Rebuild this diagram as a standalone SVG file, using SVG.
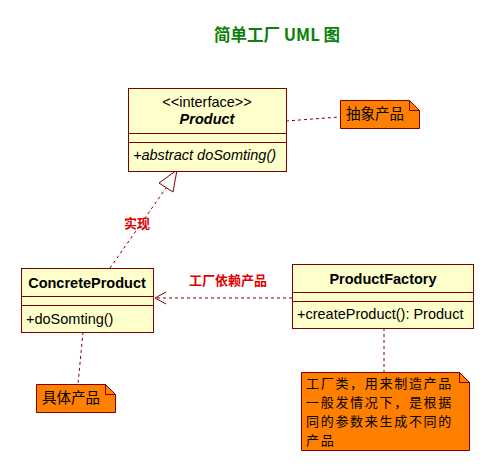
<svg xmlns="http://www.w3.org/2000/svg" width="493" height="471" viewBox="0 0 493 471">
<style>
.cls{fill:#FFFFCC;stroke:#800000;stroke-width:1}
.sep{stroke:#800000;stroke-width:1}
.note{fill:#FF8000;stroke:#800000;stroke-width:1}
.t{font-family:"Liberation Sans","DejaVu Sans",sans-serif;font-size:14.5px;fill:#000}
.b{font-weight:bold}
.cjk{font-family:"Noto Sans CJK SC","DejaVu Sans",sans-serif;font-size:14.5px;fill:#000}
.cjk2{font-family:"Noto Sans CJK SC","DejaVu Sans",sans-serif;font-size:13px;letter-spacing:1.7px;fill:#000}
.red{font-family:"Noto Sans CJK SC",sans-serif;font-size:13px;font-weight:bold;fill:#E00000}
.dash{fill:none;stroke:#800000;stroke-width:1;stroke-dasharray:3,3}
</style>
<rect width="493" height="471" fill="#fff"/>
<text x="277" y="41" text-anchor="middle" style="font-family:'Noto Sans CJK SC','Liberation Sans',sans-serif;font-size:16.5px;font-weight:bold;fill:#0A7F0A">简单工厂 UML 图</text>
<g id="connectors">
<path class="dash" d="M286,121 L340,117"/>
<path class="dash" d="M110,268 L166,188"/>
<path fill="#fff" stroke="#800000" d="M177,170 L159,183 L173,192 Z"/>
<path class="dash" d="M292,298 L155,298"/>
<path fill="none" stroke="#800000" d="M166,292 L155,298 L166,304"/>
<path class="dash" d="M83,332 L78,384"/>
<path class="dash" d="M384,328 L384,372"/>
<text class="red" x="137" y="228" text-anchor="middle">实现</text>
<text class="red" x="228" y="285" text-anchor="middle">工厂依赖产品</text>
</g>
<g id="Product">
<rect class="cls" x="128.5" y="88.5" width="158" height="83"/>
<line class="sep" x1="128.5" y1="133.5" x2="286.5" y2="133.5"/>
<line class="sep" x1="128.5" y1="142.5" x2="286.5" y2="142.5"/>
<text class="t" x="207" y="107" text-anchor="middle">&lt;&lt;interface&gt;&gt;</text>
<text class="t b" x="207" y="124" text-anchor="middle" font-style="italic">Product</text>
<text class="t" x="133" y="160" font-style="italic">+abstract doSomting()</text>
</g>
<g id="NoteAbstract">
<path class="note" d="M340.5,100.5 L409.5,100.5 L419.5,110.5 L419.5,128.5 L340.5,128.5 Z"/>
<path fill="none" stroke="#800000" d="M409.5,100.5 L409.5,110.5 L419.5,110.5"/>
<text class="cjk" x="346" y="119">抽象产品</text>
</g>
<g id="ConcreteProduct">
<rect class="cls" x="21.5" y="268.5" width="132" height="64"/>
<line class="sep" x1="21.5" y1="296.5" x2="153.5" y2="296.5"/>
<line class="sep" x1="21.5" y1="305.5" x2="153.5" y2="305.5"/>
<text class="t b" x="87" y="288" text-anchor="middle">ConcreteProduct</text>
<text class="t" x="26" y="324">+doSomting()</text>
</g>
<g id="ProductFactory">
<rect class="cls" x="292.5" y="264.5" width="181" height="64"/>
<line class="sep" x1="292.5" y1="292.5" x2="473.5" y2="292.5"/>
<line class="sep" x1="292.5" y1="301.5" x2="473.5" y2="301.5"/>
<text class="t b" x="383" y="284" text-anchor="middle">ProductFactory</text>
<text class="t" x="297" y="319">+createProduct(): Product</text>
</g>
<g id="NoteConcrete">
<path class="note" d="M36.5,384.5 L105.5,384.5 L115.5,394.5 L115.5,412.5 L36.5,412.5 Z"/>
<path fill="none" stroke="#800000" d="M105.5,384.5 L105.5,394.5 L115.5,394.5"/>
<text class="cjk" x="42" y="403">具体产品</text>
</g>
<g id="NoteFactory">
<path class="note" d="M301.5,372.5 L459.5,372.5 L469.5,382.5 L469.5,450.5 L301.5,450.5 Z"/>
<path fill="none" stroke="#800000" d="M459.5,372.5 L459.5,382.5 L469.5,382.5"/>
<text class="cjk2" x="306" y="388">工厂类，用来制造产品</text>
<text class="cjk2" x="306" y="407">一般发情况下，是根据</text>
<text class="cjk2" x="306" y="426">同的参数来生成不同的</text>
<text class="cjk2" x="306" y="445">产品</text>
</g>
</svg>
